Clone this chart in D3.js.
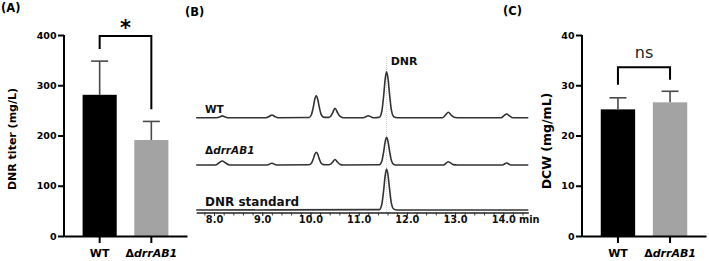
<!DOCTYPE html>
<html>
<head>
<meta charset="utf-8">
<script src="https://cdn.jsdelivr.net/npm/d3@7/dist/d3.min.js"></script>
<style>
  body { margin: 0; background: #fff; }
  svg { display: block; font-family: "DejaVu Sans", sans-serif; }
</style>
</head>
<body>
<div id="fig"></div>
<script>
// strains
const groups = ["WT", "ΔdrrAB1"];

// (A) DNR titer, mg/L
const titerMean = [281, 191];
const titerSD = [67, 37];
const titerTicks = [0, 100, 200, 300, 400];
const titerBracket = [398, 372, 252]; // top, left leg end, right leg end

// (C) dry cell weight, mg/mL
const dcwMean = [25.2, 26.6];
const dcwSD = [2.3, 2.2];
const dcwTicks = [0, 10, 20, 30, 40];
const dcwBracket = [33.6, 30.1, 31.1];

// (B) HPLC traces: [retention time (min), signal]
const traceNames = ["WT", "ΔdrrAB1", "DNR standard"];
const traceOffset = [94.3, 47, 2];
const wtTrace = [
  [7.63, 0], [8.05, 0], [8.12, 0.8], [8.17, 1.8], [8.23, 0.8], [8.3, 0],
  [9.08, 0], [9.15, 1.4], [9.2, 2.7], [9.26, 1.3], [9.33, 0],
  [9.97, 0.2], [10.02, 3], [10.06, 10.7], [10.09, 18.4], [10.12, 22], [10.15, 18.7], [10.18, 11.5], [10.22, 3.6], [10.27, 0.6], [10.32, 0.3],
  [10.38, 0.3], [10.42, 1.5], [10.46, 4.8], [10.51, 9.5], [10.56, 5.2], [10.61, 1.5], [10.68, 0],
  [11.1, 0], [11.15, 1], [11.2, 2], [11.26, 0.8], [11.32, 0],
  [11.43, 0.5], [11.48, 6.2], [11.52, 22.4], [11.55, 38.4], [11.58, 46], [11.61, 39], [11.64, 24], [11.68, 7.5], [11.73, 1], [11.8, 0],
  [12.74, 0], [12.8, 2.5], [12.86, 5.4], [12.92, 2.6], [13.0, 0.2], [13.1, 0],
  [13.96, 0], [14.01, 1.8], [14.07, 3.7], [14.13, 1.8], [14.2, 0], [14.52, 0]
];
const mutTrace = [
  [7.63, 0], [8.03, 0], [8.1, 2], [8.17, 4], [8.24, 2], [8.32, 0],
  [9.1, 0], [9.2, 1.8], [9.3, 0],
  [9.97, 0.2], [10.02, 1.7], [10.06, 6.2], [10.09, 10.6], [10.12, 12.7], [10.15, 10.8], [10.18, 6.6], [10.22, 2], [10.27, 0.4], [10.32, 0.3],
  [10.38, 0.3], [10.42, 0.9], [10.46, 2.8], [10.51, 5.5], [10.56, 3], [10.61, 0.8], [10.68, 0],
  [11.43, 0.3], [11.48, 3.7], [11.52, 13.5], [11.55, 23.1], [11.58, 27.7], [11.61, 23.5], [11.64, 14.5], [11.68, 4.5], [11.73, 0.6], [11.8, 0],
  [12.76, 0], [12.86, 3.3], [12.96, 0.4], [13.05, 0],
  [13.98, 0], [14.07, 2], [14.16, 0], [14.52, 0]
];
const stdTrace = [
  [7.63, 0], [11.43, 0.4], [11.48, 5.5], [11.52, 20], [11.55, 34.2], [11.58, 41], [11.61, 34.8], [11.64, 21.5], [11.68, 6.7], [11.73, 0.9], [11.8, 0], [14.52, 0]
];
const dnrTime = 11.58;
const timeTicks = [8, 9, 10, 11, 12, 13, 14];

const svg = d3.select("#fig").append("svg")
  .attr("width", 709)
  .attr("height", 261);

// text helper for the Δ + italic gene name
function geneLabel(sel) {
  sel.text(null);
  sel.append("tspan").text("Δ");
  sel.append("tspan").attr("font-style", "italic").text("drrAB1");
}

// bar panel (A and C)
function barPanel(opt) {
  const g = svg.append("g");
  const x = d3.scaleBand().domain(groups).range(opt.xr).paddingInner(0.34).paddingOuter(0.36);
  const y = d3.scaleLinear().domain(opt.yd).range([236, 35]);

  // bars
  g.selectAll("rect.bar").data(opt.mean).join("rect")
    .attr("x", (d, i) => x(groups[i]))
    .attr("y", d => y(d))
    .attr("width", x.bandwidth())
    .attr("height", d => y(0) - y(d))
    .attr("fill", (d, i) => i === 0 ? "#000" : "#a3a3a3");

  // error bars (upper only)
  opt.mean.forEach((m, i) => {
    const cx = x(groups[i]) + x.bandwidth() / 2;
    g.append("line")
      .attr("x1", cx).attr("x2", cx)
      .attr("y1", y(m)).attr("y2", y(m + opt.sd[i]))
      .attr("stroke", "#4a4a4a").attr("stroke-width", 1.6);
    g.append("line")
      .attr("x1", cx - 8.5).attr("x2", cx + 8.5)
      .attr("y1", y(m + opt.sd[i])).attr("y2", y(m + opt.sd[i]))
      .attr("stroke", "#4a4a4a").attr("stroke-width", 1.6);
  });

  // y axis
  const ya = g.append("g")
    .attr("transform", `translate(${opt.xr[0]},0)`)
    .call(d3.axisLeft(y).tickValues(opt.ticks).tickSize(6).tickPadding(1.5).tickSizeOuter(0));
  ya.select(".domain").attr("stroke-width", 2).attr("d", `M0,${y(0) + 1}V${y(opt.yd[1])}`);
  ya.selectAll(".tick line").attr("stroke-width", 2);
  ya.selectAll("text")
    .attr("font-family", "DejaVu Sans").attr("font-weight", "bold").attr("font-size", 9.5).attr("fill", "#000");

  // x axis
  const xa = g.append("g")
    .attr("transform", "translate(0,236)")
    .call(d3.axisBottom(x).tickSize(7).tickSizeOuter(0));
  xa.select(".domain").attr("stroke-width", 2);
  xa.selectAll(".tick line").attr("stroke-width", 2);
  xa.selectAll("text")
    .attr("y", 13.5)
    .attr("font-family", "DejaVu Sans").attr("font-weight", "bold").attr("font-size", 11).attr("fill", "#000");
  xa.selectAll(".tick text").filter(d => d === groups[1]).call(geneLabel);

  // significance bracket
  const b = opt.bracket;
  const x0 = x(groups[0]) + x.bandwidth() / 2;
  const x1 = x(groups[1]) + x.bandwidth() / 2;
  g.append("path")
    .attr("d", `M${x0},${y(b[1])}V${y(b[0])}H${x1}V${y(b[2])}`)
    .attr("fill", "none").attr("stroke", "#000").attr("stroke-width", 2);
  g.append("text")
    .attr("x", (x0 + x1) / 2).attr("y", opt.sigY)
    .attr("text-anchor", "middle")
    .attr("font-size", opt.sigSize).attr("font-weight", opt.sigWeight)
    .attr("fill", opt.sigColor)
    .text(opt.sig);

  // y title
  g.append("text")
    .attr("transform", "rotate(-90)")
    .attr("x", -opt.titleY).attr("y", opt.titleX)
    .attr("text-anchor", "middle")
    .attr("font-weight", "bold").attr("font-size", opt.titleSize)
    .text(opt.title);
}

barPanel({
  xr: [64, 187], yd: [0, 400], mean: titerMean, sd: titerSD, ticks: titerTicks,
  bracket: titerBracket, sig: "*", sigY: 35, sigSize: 21, sigWeight: "bold", sigColor: "#000",
  title: "DNR titer (mg/L)", titleX: 15.5, titleY: 139, titleSize: 11
});
barPanel({
  xr: [582, 706], yd: [0, 40], mean: dcwMean, sd: dcwSD, ticks: dcwTicks,
  bracket: dcwBracket, sig: "ns", sigY: 58.3, sigSize: 16, sigWeight: "normal", sigColor: "#222",
  title: "DCW (mg/mL)", titleX: 550.5, titleY: 141, titleSize: 12.5
});

// (B) chromatograms
const tx = d3.scaleLinear().domain([7.63, 14.52]).range([196.2, 528.3]);
const sy = d3.scaleLinear().domain([0, 150]).range([212, 62]);
const gB = svg.append("g");

// DNR retention marker
gB.append("line")
  .attr("x1", tx(dnrTime)).attr("x2", tx(dnrTime))
  .attr("y1", 57).attr("y2", 212)
  .attr("stroke", "#c4c4c4").attr("stroke-width", 0.8).attr("stroke-dasharray", "1,1");

const line = d3.line().curve(d3.curveMonotoneX);
[wtTrace, mutTrace, stdTrace].forEach((tr, k) => {
  gB.append("path")
    .attr("d", line.x(d => tx(d[0])).y(d => sy(d[1] + traceOffset[k]))(tr))
    .attr("fill", "none").attr("stroke", "#333").attr("stroke-width", 1.6);
});

// time axis with minor ticks
const minorTicks = d3.range(7.8, 14.45, 0.2);
const ta = gB.append("g")
  .attr("transform", "translate(0,212.5)")
  .call(d3.axisBottom(tx).tickValues(minorTicks).tickSize(3).tickFormat("").tickSizeOuter(0));
ta.select(".domain").attr("stroke", "#222").attr("stroke-width", 1.3);
ta.selectAll(".tick line").attr("stroke", "#333");
const tb = gB.append("g")
  .attr("transform", "translate(0,212.5)")
  .call(d3.axisBottom(tx).tickValues(timeTicks).tickSize(3.5).tickPadding(0).tickFormat(d3.format(".1f")));
tb.select(".domain").remove();
tb.selectAll(".tick line").attr("stroke", "#333");
tb.selectAll("text")
  .attr("font-family", "DejaVu Sans").attr("font-weight", "bold").attr("font-size", 9.8).attr("fill", "#111");
gB.append("text")
  .attr("x", 519).attr("y", 223.1)
  .attr("font-weight", "bold").attr("font-size", 9.8).attr("fill", "#111")
  .text("min");

// trace names
const nameY = [113.3, 154, 206];
const nameSize = [10.5, 10.5, 12];
traceNames.forEach((n, k) => {
  const t = gB.append("text")
    .attr("x", 205).attr("y", nameY[k])
    .attr("font-weight", "bold").attr("font-size", nameSize[k]).attr("fill", "#111")
    .text(n);
  if (k === 1) t.call(geneLabel);
});
gB.append("text")
  .attr("x", 390.7).attr("y", 65)
  .attr("font-weight", "bold").attr("font-size", 11).attr("fill", "#111")
  .text("DNR");

// panel letters
[["(A)", 1, 12], ["(B)", 185, 16], ["(C)", 503, 15]].forEach(p => {
  svg.append("text")
    .attr("x", p[1]).attr("y", p[2])
    .attr("font-weight", "bold").attr("font-size", 11.5)
    .text(p[0]);
});
</script>
</body>
</html>
